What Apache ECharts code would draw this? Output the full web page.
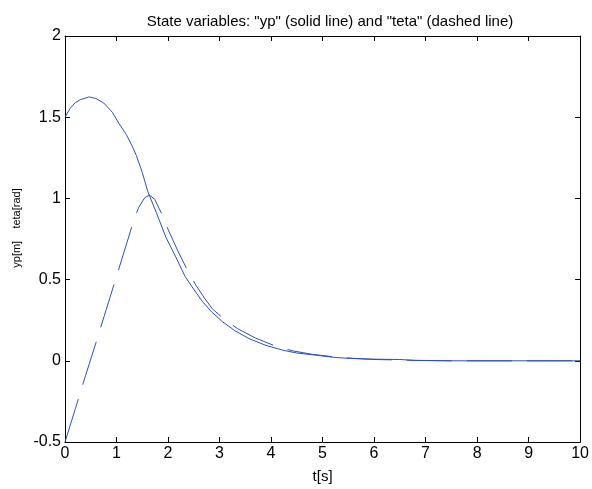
<!DOCTYPE html>
<html>
<head>
<meta charset="utf-8">
<script src="https://cdn.jsdelivr.net/npm/echarts@6/dist/echarts.min.js"></script>
<style>html,body{margin:0;padding:0;background:#fff;}#c{width:592px;height:489px;}</style>
</head>
<body>
<div id="c"></div>
<script>
// Data
var titleText = 'State variables: "yp" (solid line) and "teta" (dashed line)';
var xName = 't[s]';
var yName = 'yp[m]    teta[rad]';
var xTicks = [0, 1, 2, 3, 4, 5, 6, 7, 8, 9, 10];
var yTicks = [-0.5, 0, 0.5, 1, 1.5, 2];

var ypT = [0, 0.1, 0.2, 0.3, 0.47, 0.6, 0.75, 0.92, 1.05, 1.19, 1.3, 1.385, 1.5, 1.61, 1.77, 1.96, 2.15, 2.33, 2.5, 2.67, 2.85, 3.06, 3.3, 3.57, 3.9, 4.22, 4.5, 4.86, 5.2, 5.51, 6.0, 6.5, 6.8, 7.5, 10];
var ypV = [1.50, 1.555, 1.59, 1.608, 1.625, 1.615, 1.588, 1.53, 1.46, 1.393, 1.325, 1.265, 1.16, 1.04, 0.915, 0.76, 0.64, 0.52, 0.44, 0.364, 0.30, 0.24, 0.185, 0.137, 0.095, 0.066, 0.048, 0.035, 0.022, 0.015, 0.010, 0.008, 0.002, 0.0, 0.0];

var tetaT = [0, 0.2, 0.4, 0.6, 0.8, 1.0, 1.2, 1.32, 1.43, 1.55, 1.64, 1.74, 1.89, 2.0, 2.2, 2.38, 2.54, 2.7, 2.86, 3.09, 3.35, 3.7, 4.12, 4.44, 4.8, 5.2, 5.6, 6.0, 6.8, 7.5, 10];
var tetaV = [-0.5, -0.296, -0.09, 0.11, 0.315, 0.52, 0.725, 0.85, 0.944, 1.005, 1.02, 0.995, 0.897, 0.81, 0.67, 0.556, 0.466, 0.39, 0.32, 0.256, 0.198, 0.14, 0.086, 0.06, 0.04, 0.025, 0.015, 0.008, 0.003, 0.0, 0.0];

function pairs(xs, ys) { return xs.map(function (x, i) { return [x, ys[i]]; }); }

var FONT = '"Liberation Sans", Arial, sans-serif';
var lineColor = '#2f50b5';

var chart = echarts.init(document.getElementById('c'), null, { renderer: 'canvas' });
var axisCommon = {
  type: 'value',
  axisLine: { show: true, onZero: false, lineStyle: { color: '#000', width: 1 } },
  axisTick: { show: true, inside: true, length: 5, lineStyle: { color: '#000', width: 1 } },
  splitLine: { show: false }
};
chart.setOption({
  animation: false,
  backgroundColor: '#fff',
  title: {
    text: titleText,
    left: 325, top: 9, textAlign: 'center',
    textStyle: { fontFamily: FONT, fontSize: 15, fontWeight: 'normal', color: '#000' }
  },
  graphic: [{
    type: 'text',
    x: 17, y: 228, rotation: Math.PI / 2,
    style: { text: yName, fontFamily: FONT, fontSize: 11, fill: '#000',
      textAlign: 'center', textVerticalAlign: 'middle' }
  }],
  grid: { left: 65, top: 36, width: 517, height: 408 },
  xAxis: [
    Object.assign({}, axisCommon, {
      position: 'bottom', min: xTicks[0], max: xTicks[xTicks.length - 1], interval: 1,
      name: xName, nameLocation: 'middle', nameGap: 27,
      nameTextStyle: { fontFamily: FONT, fontSize: 15, color: '#000' },
      axisLabel: { margin: 4, fontFamily: FONT, fontSize: 16, color: '#000' }
    }),
    Object.assign({}, axisCommon, {
      position: 'top', min: xTicks[0], max: xTicks[xTicks.length - 1], interval: 1,
      axisLabel: { show: false }
    })
  ],
  yAxis: [
    Object.assign({}, axisCommon, {
      position: 'left', min: yTicks[0], max: yTicks[yTicks.length - 1], interval: 0.5,
      axisLabel: { margin: 4, fontFamily: FONT, fontSize: 16, color: '#000',
        formatter: function (v) { return String(v); } }
    }),
    Object.assign({}, axisCommon, {
      position: 'right', min: yTicks[0], max: yTicks[yTicks.length - 1], interval: 0.5,
      axisLabel: { show: false }
    })
  ],
  series: [
    {
      name: 'yp', type: 'line', xAxisIndex: 0, yAxisIndex: 0,
      data: pairs(ypT, ypV), showSymbol: false, symbol: 'none', smooth: false,
      lineStyle: { color: lineColor, width: 1, type: 'solid' }
    },
    {
      name: 'teta', type: 'line', xAxisIndex: 0, yAxisIndex: 0,
      data: pairs(tetaT, tetaV), showSymbol: false, symbol: 'none', smooth: false,
      lineStyle: { color: lineColor, width: 1, type: [45, 15] }
    }
  ]
});
</script>
</body>
</html>
